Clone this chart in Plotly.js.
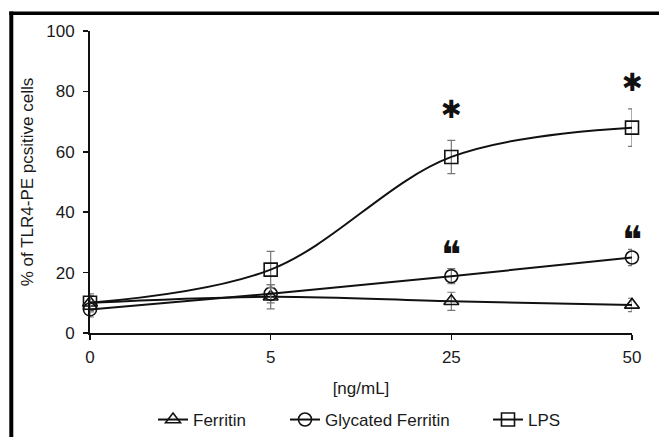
<!DOCTYPE html>
<html>
<head>
<meta charset="utf-8">
<script src="https://cdn.plot.ly/plotly-3.0.1.min.js"></script>
<style>html,body{margin:0;padding:0;background:#fff;}#chart{width:659px;height:437px;}</style>
</head>
<body>
<div id="chart"></div>
<script>
var categories = ['0', '5', '25', '50'];
var ferritin = [10, 12, 10.5, 9.3];
var ferritinErr = [2.5, 4, 3, 2.2];
var glycated = [7.8, 13, 18.8, 25];
var glycatedErr = [2.5, 3, 2.5, 2.7];
var lps = [10, 21, 58.3, 68];
var lpsErr = [3, 6, 5.5, 6.2];
var starY = [null, null, 74, 83];
var quoteY = [null, null, 29, 34];

var FONT = 'Liberation Sans, Arial, sans-serif';

function series(name, y, err, symbol, legendId) {
  return {
    type: 'scatter', mode: 'lines+markers', name: name, legend: legendId,
    x: categories, y: y,
    cliponaxis: false,
    line: {color: '#111', width: 2, shape: 'spline', smoothing: 1},
    marker: {symbol: symbol, size: 13, color: '#111', line: {color: '#111', width: 1.6}},
    error_y: {type: 'data', array: err, visible: true, color: '#777', thickness: 1.2, width: 4}
  };
}

var data = [
  series('Ferritin', ferritin, ferritinErr, 'triangle-up-open', 'legend'),
  series('Glycated Ferritin', glycated, glycatedErr, 'circle-open', 'legend2'),
  series('LPS', lps, lpsErr, 'square-open', 'legend3')
];

var annotations = [];
categories.forEach(function (c, i) {
  if (starY[i] !== null) {
    annotations.push({x: i, y: starY[i], xref: 'x', yref: 'y', text: '✱', showarrow: false,
      font: {family: 'DejaVu Sans', size: 25, color: '#111'}});
  }
  if (quoteY[i] !== null) {
    annotations.push({x: i, y: quoteY[i], xref: 'x', yref: 'y', text: '❝', showarrow: false, yshift: -10,
      font: {family: 'DejaVu Sans', size: 38, color: '#111'}});
  }
});

function legendAt(px) {
  return {orientation: 'h', x: (px - 90) / 542, xanchor: 'left', y: -0.288, yanchor: 'middle',
    font: {family: FONT, size: 17, color: '#1a1a1a'}, bgcolor: 'rgba(0,0,0,0)'};
}

var layout = {
  width: 659, height: 437,
  margin: {l: 90, r: 27, t: 31, b: 104, pad: 0, autoexpand: false},
  paper_bgcolor: '#fff', plot_bgcolor: '#fff',
  font: {family: FONT, size: 17, color: '#1a1a1a'},
  showlegend: true,
  legend: legendAt(153),
  legend2: legendAt(285),
  legend3: legendAt(488),
  xaxis: {
    type: 'category', range: [0, 3], showline: true, linecolor: '#111', linewidth: 2,
    ticks: 'outside', ticklen: 5, tickwidth: 1.5, tickcolor: '#111', ticklabelstandoff: 3,
    showgrid: false, zeroline: false, tickfont: {family: FONT, size: 17, color: '#1a1a1a'},
    title: {text: '[ng/mL]', font: {family: FONT, size: 17, color: '#1a1a1a'}, standoff: 16}
  },
  yaxis: {
    range: [0, 100], dtick: 20, showline: true, linecolor: '#111', linewidth: 2,
    ticks: 'outside', ticklen: 5, tickwidth: 1.5, tickcolor: '#111', ticklabelstandoff: 5,
    showgrid: false, zeroline: false, tickfont: {family: FONT, size: 17, color: '#1a1a1a'},
    title: {text: '% of TLR4-PE pcsitive cells', font: {family: FONT, size: 17, color: '#1a1a1a'}, standoff: 8}
  },
  annotations: annotations,
  shapes: [
    {type: 'line', xref: 'paper', yref: 'paper', x0: (11.3 - 90) / 542, x1: (11.3 - 90) / 542,
      y0: (333 - 11.5) / 302, y1: (333 - 440) / 302, line: {color: '#000', width: 4}},
    {type: 'line', xref: 'paper', yref: 'paper', x0: (9.3 - 90) / 542, x1: (662 - 90) / 542,
      y0: (333 - 13.3) / 302, y1: (333 - 13.3) / 302, line: {color: '#000', width: 3.5}}
  ]
};

Plotly.newPlot('chart', data, layout, {displayModeBar: false, staticPlot: true});
</script>
</body>
</html>
